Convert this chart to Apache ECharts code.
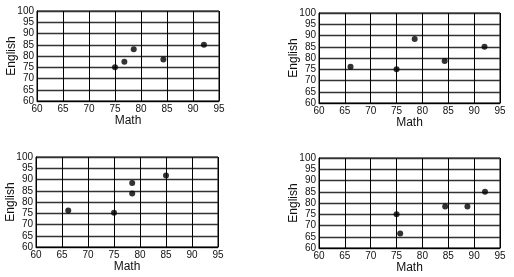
<!DOCTYPE html>
<html><head><meta charset="utf-8">
<script src="https://cdn.jsdelivr.net/npm/echarts@6/dist/echarts.min.js"></script>
<style>html,body{margin:0;padding:0;background:#fff}#c{width:514px;height:277px}</style>
</head><body><div id="c"></div>
<script>
const xTicks = [60, 65, 70, 75, 80, 85, 90, 95];
const yTicks = [60, 65, 70, 75, 80, 85, 90, 95, 100];
const xName = "Math";
const yName = "English";
const plotA = [[75, 75], [76.8, 77.5], [78.6, 83], [84.3, 78.5], [92.1, 85]];
const plotB = [[66.1, 76.1], [75, 75], [78.5, 88.5], [84.3, 78.7], [92, 85]];
const plotC = [[66.2, 76.2], [75, 75.2], [78.5, 88.5], [78.5, 83.8], [85, 91.8]];
const plotD = [[75, 75], [75.7, 66.5], [84.4, 78.5], [88.7, 78.5], [92.1, 85]];
const plots = [plotA, plotB, plotC, plotD];

const grids = [
  {left: 37, top: 11, width: 182, height: 90},
  {left: 319, top: 13, width: 181, height: 90},
  {left: 36, top: 157, width: 182, height: 90},
  {left: 319, top: 158, width: 181, height: 90}
];
const font = "Liberation Sans, Arial, sans-serif";
const xAxes = [], yAxes = [], series = [];
grids.forEach((g, i) => {
  g.show = true; g.borderColor = '#000'; g.borderWidth = 1; g.containLabel = false;
  xAxes.push({
    gridIndex: i, type: 'value', min: xTicks[0], max: xTicks[xTicks.length - 1], interval: 5,
    name: xName, nameLocation: 'middle', nameGap: 14, nameMoveOverlap: false,
    nameTextStyle: {fontFamily: font, fontSize: 12, color: '#111'},
    axisLine: {show: true, lineStyle: {color: '#000', width: 1}},
    axisTick: {show: false},
    axisLabel: {fontFamily: font, fontSize: 10, color: '#111', margin: 3, showMinLabel: true, showMaxLabel: true},
    splitLine: {show: true, lineStyle: {color: '#000', width: 1}}
  });
  yAxes.push({
    gridIndex: i, type: 'value', min: yTicks[0], max: yTicks[yTicks.length - 1], interval: 5,
    name: yName, nameLocation: 'middle', nameGap: 19, nameRotate: 90, nameMoveOverlap: false,
    nameTextStyle: {fontFamily: font, fontSize: 12, color: '#111'},
    axisLine: {show: true, lineStyle: {color: '#000', width: 1}},
    axisTick: {show: false},
    axisLabel: {fontFamily: font, fontSize: 10, color: '#111', margin: 3, showMinLabel: true, showMaxLabel: true},
    splitLine: {show: true, lineStyle: {color: '#333', width: 1.3}}
  });
  series.push({
    type: 'scatter', xAxisIndex: i, yAxisIndex: i, data: plots[i],
    symbolSize: 6, itemStyle: {color: '#000'}, silent: true
  });
});
const chart = echarts.init(document.getElementById('c'), null, {renderer: 'canvas'});
chart.setOption({animation: false, grid: grids, xAxis: xAxes, yAxis: yAxes, series: series});
</script></body></html>
